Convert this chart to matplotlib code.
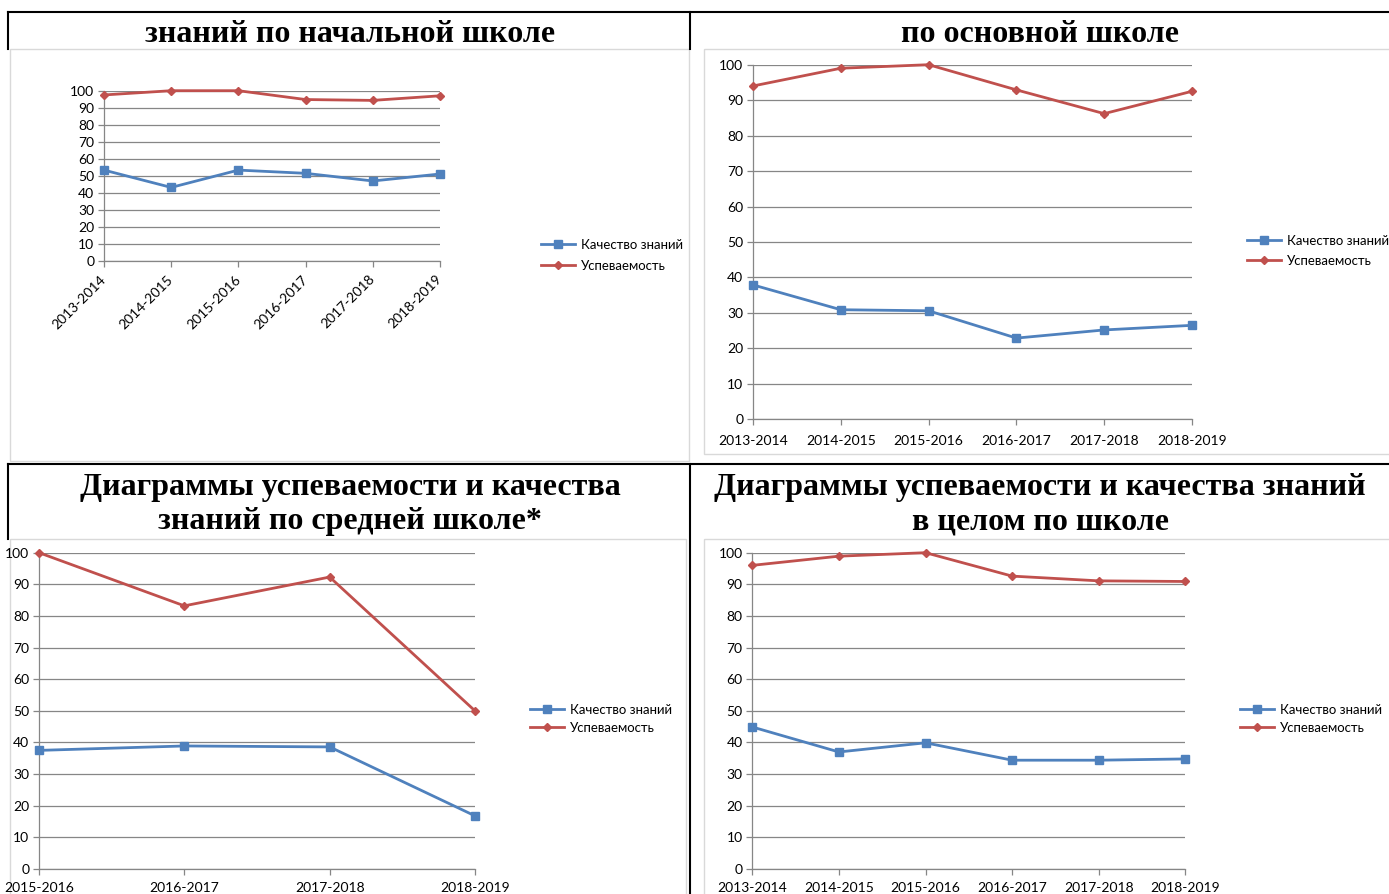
import matplotlib

matplotlib.use("Agg")
import matplotlib.pyplot as plt
from matplotlib.patches import Rectangle

W, H = 1389, 894

SERIES_NAMES = ["Качество знаний", "Успеваемость"]
YEARS_ALL = ["2013-2014", "2014-2015", "2015-2016", "2016-2017", "2017-2018", "2018-2019"]
YEARS_SENIOR = ["2015-2016", "2016-2017", "2017-2018", "2018-2019"]

PRIMARY_QUALITY = [53.3, 43.1, 53.3, 51.4, 46.9, 51.0]
PRIMARY_SUCCESS = [97.5, 100, 100, 94.8, 94.3, 97.0]
BASIC_QUALITY = [37.9, 30.9, 30.6, 22.9, 25.2, 26.5]
BASIC_SUCCESS = [94.0, 99.0, 100, 92.9, 86.2, 92.5]
SENIOR_QUALITY = [37.5, 38.9, 38.6, 16.8]
SENIOR_SUCCESS = [100, 83.2, 92.3, 50.0]
TOTAL_QUALITY = [44.9, 37.0, 39.9, 34.4, 34.4, 34.8]
TOTAL_SUCCESS = [96.0, 98.9, 100, 92.6, 91.1, 90.9]

BLUE = "#4F81BD"
RED = "#C0504D"
GRID = "#868686"

plt.rcParams["font.family"] = ["Lato", "DejaVu Sans"]


def fx(x):
    return x / W


def fy(y):
    return 1 - y / H


def draw_chart(fig, box, years, quality, success, legend_at, spacing,
               xpad=5, rotate=False):
    left, top, right, bottom = box
    ax = fig.add_axes([fx(left), fy(bottom), (right - left) / W, (bottom - top) / H])
    ax.set_facecolor("none")
    xs = range(len(years))
    q_line, = ax.plot(xs, quality, color=BLUE, lw=2.0, marker="s", ms=6,
                      clip_on=False, zorder=3)
    s_line, = ax.plot(xs, success, color=RED, lw=2.0, marker="D", ms=4.5,
                      clip_on=False, zorder=3)
    ax.set_xlim(0, len(years) - 1)
    ax.set_ylim(0, 100)
    ax.set_yticks(range(0, 101, 10))
    ax.set_xticks(list(xs))
    ax.set_xticklabels(years)
    ax.grid(axis="y", color=GRID, lw=0.9)
    ax.set_axisbelow(True)
    for side in ("top", "right"):
        ax.spines[side].set_visible(False)
    for side in ("left", "bottom"):
        ax.spines[side].set_color(GRID)
        ax.spines[side].set_linewidth(0.9)
    ax.tick_params(direction="out", length=4, color=GRID, width=0.9,
                   labelsize=10, pad=3, labelcolor="#000000")
    ax.tick_params(axis="x", pad=xpad)
    if rotate:
        for lab in ax.get_xticklabels():
            lab.set_rotation(45)
            lab.set_ha("right")
            lab.set_va("center")
            lab.set_rotation_mode("anchor")
    fig.legend([q_line, s_line], SERIES_NAMES, loc="upper left",
               bbox_to_anchor=(fx(legend_at[0]), fy(legend_at[1])),
               frameon=False, fontsize=9.5, handlelength=2.6,
               handletextpad=0.4, labelspacing=spacing, borderpad=0,
               borderaxespad=0, numpoints=1)
    return ax


fig = plt.figure(figsize=(W / 100, H / 100), dpi=100)

# page background: table borders and chart frames in pixel coordinates
bg = fig.add_axes([0, 0, 1, 1])
bg.set_xlim(0, W)
bg.set_ylim(H, 0)
bg.axis("off")
bg.set_zorder(-1)

frame = dict(fill=False, edgecolor="#D9D9D9", lw=1)
bg.add_patch(Rectangle((10, 49), 679, 412, **frame))
bg.add_patch(Rectangle((704, 49), 700, 405, **frame))
bg.add_patch(Rectangle((10, 539), 676, 370, **frame))
bg.add_patch(Rectangle((704, 539), 700, 370, **frame))

table = dict(color="black", lw=1.5)
bg.plot([8, W], [12, 12], **table)
bg.plot([8, W], [464, 464], **table)
bg.plot([8, 8], [12, 49], **table)
bg.plot([8, 8], [464, 539], **table)
bg.plot([690, 690], [12, 49], **table)
bg.plot([690, 690], [464, H], **table)

title_kw = dict(ha="center", va="center", family=["Liberation Serif", "DejaVu Serif"],
                weight="bold", size=23)
fig.text(fx(350), fy(34), "знаний по начальной школе", **title_kw)
fig.text(fx(1040), fy(34), "по основной школе", **title_kw)
fig.text(fx(350), fy(487), "Диаграммы успеваемости и качества", **title_kw)
fig.text(fx(350), fy(522), "знаний по средней школе*", **title_kw)
fig.text(fx(1040), fy(487), "Диаграммы успеваемости и качества знаний", **title_kw)
fig.text(fx(1040), fy(522), "в целом по школе", **title_kw)

draw_chart(fig, (104, 90.7, 440, 260.7), YEARS_ALL, PRIMARY_QUALITY,
           PRIMARY_SUCCESS, (541, 239), 0.68, xpad=8, rotate=True)
draw_chart(fig, (753, 64.7, 1192, 419.3), YEARS_ALL, BASIC_QUALITY,
           BASIC_SUCCESS, (1247, 235), 0.6, xpad=7)
draw_chart(fig, (39, 552.7, 475, 869), YEARS_SENIOR, SENIOR_QUALITY,
           SENIOR_SUCCESS, (530, 704), 0.45, xpad=5)
draw_chart(fig, (752.3, 552.7, 1185.3, 869), YEARS_ALL, TOTAL_QUALITY,
           TOTAL_SUCCESS, (1240, 704), 0.45, xpad=5)

fig.savefig("out.png", dpi=100)
